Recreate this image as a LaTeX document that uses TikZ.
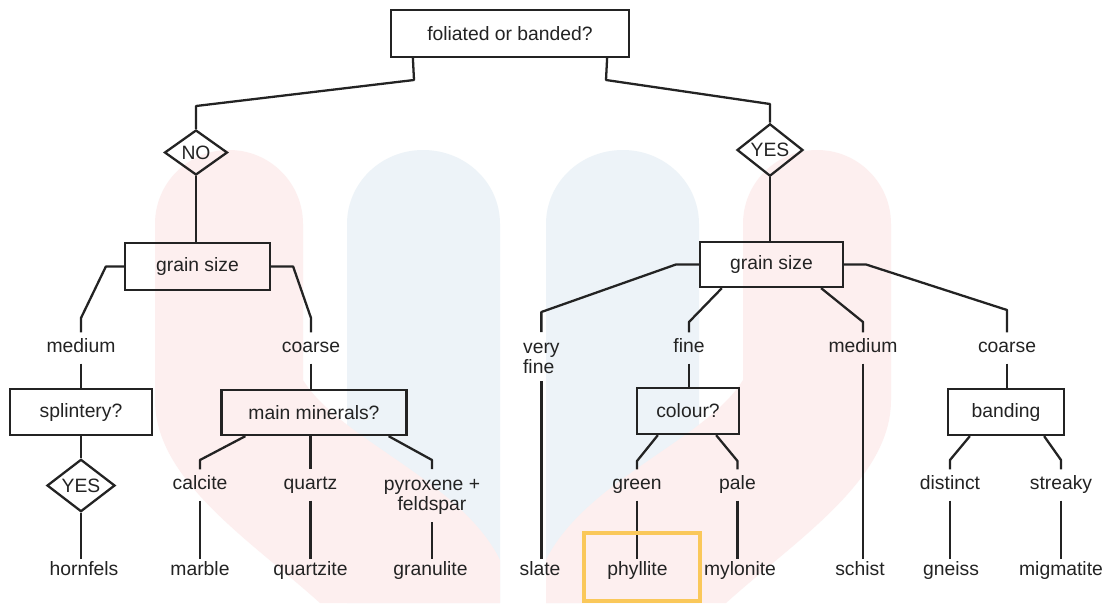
\documentclass[tikz,border=0pt]{standalone}
\usepackage{fontspec}
\setmainfont{Liberation Sans}
\usetikzlibrary{shapes.geometric,calc}
\definecolor{ink}{RGB}{35,35,35}
\definecolor{wmpink}{RGB}{253,239,239}
\definecolor{wmblue}{RGB}{237,243,248}
\definecolor{hilite}{RGB}{250,200,90}
\begin{document}
\begin{tikzpicture}[x=0.02cm, y=-0.02cm,
    font=\fontsize{11}{11.5}\selectfont,
    qbox/.style={draw=ink, line width=1.3pt, rectangle, inner sep=0pt, text=ink},
    qdiam/.style={draw=ink, line width=1.3pt, diamond, inner sep=0pt, text=ink},
    lbl/.style={inner xsep=1pt, inner ysep=4pt, text height=7.5pt, text depth=2pt, text=ink},
    leaf/.style={lbl, inner ysep=2pt},
    twoline/.style={inner xsep=1pt, inner ysep=4pt, text=ink},
    link/.style={draw=ink, line width=1.3pt, line join=round}]

    % Canvas
    \fill[white] (0,0) rectangle (1110,603);
    \useasboundingbox (0,0) rectangle (1110,603);

    % Watermark behind the tree
    \fill[wmblue] (347,224) .. controls (347,183) and (381,150) .. (423,150)
        .. controls (466,150) and (500,183) .. (500,224) -- (500,603) -- (347,603) -- cycle;
    \fill[wmblue] (546,224) .. controls (546,183) and (580,150) .. (623,150)
        .. controls (665,150) and (699,183) .. (699,224) -- (699,603) -- (546,603) -- cycle;
    \fill[wmpink] (155,224) .. controls (155,183) and (188,150) .. (229,150)
        .. controls (270,150) and (303,183) .. (303,224) -- (303,380)
        .. controls (340,440) and (460,480) .. (500,560) -- (500,603) -- (320,603)
        .. controls (250,540) and (155,480) .. (155,400) -- cycle;
    \fill[wmpink] (891,224) .. controls (891,183) and (858,150) .. (817,150)
        .. controls (776,150) and (743,183) .. (743,224) -- (743,380)
        .. controls (706,440) and (586,480) .. (546,560) -- (546,603) -- (726,603)
        .. controls (796,540) and (891,480) .. (891,400) -- cycle;

    % Questions
    \node[qbox, minimum width=4.76cm, minimum height=0.94cm] (fob) at (510,33.5) {foliated or banded?};
    \node[qdiam, minimum width=1.26cm, minimum height=0.9cm] (no) at (196,152.5) {NO};
    \node[qdiam, minimum width=1.32cm, minimum height=0.88cm] (yes) at (770,150) {YES};
    \node[qbox, minimum width=2.9cm, minimum height=0.94cm] (gl) at (197.5,266.5) {grain size};
    \node[qbox, minimum width=2.86cm, minimum height=0.9cm] (gr) at (771.5,264.5) {grain size};
    \node[qbox, minimum width=2.84cm, minimum height=0.92cm] (sp) at (81,412) {splintery?};
    \node[qdiam, minimum width=1.36cm, minimum height=0.9cm] (yes2) at (81,485.5) {YES};
    \node[qbox, minimum width=3.7cm, minimum height=0.9cm] (mm) at (314,412.5) {main minerals?};
    \node[qbox, minimum width=2.04cm, minimum height=0.92cm] (cl) at (688,411) {colour?};
    \node[qbox, minimum width=2.32cm, minimum height=0.92cm] (bd) at (1006,412) {banding};

    % Grain sizes
    \node[lbl] (medL) at (81,348) {medium};
    \node[lbl] (coaL) at (311,348) {coarse};
    \node[twoline, align=left, anchor=north west] (vf) at (521,332) {\strut very\\fine};
    \node[lbl] (fine) at (689,348) {fine};
    \node[lbl] (medR) at (863,348) {medium};
    \node[lbl] (coaR) at (1007,348) {coarse};

    % Minerals, colours, banding
    \node[lbl] (calcite) at (200,485) {calcite};
    \node[lbl] (quartz) at (310.5,485) {quartz};
    \node[twoline, align=center, anchor=north] (pyro) at (432,469) {\strut pyroxene +\\feldspar};
    \node[lbl] (green) at (637,485) {green};
    \node[lbl] (pale) at (737.5,485) {pale};
    \node[lbl] (distinct) at (950,485) {distinct};
    \node[lbl] (streaky) at (1061,485) {streaky};

    % Rocks
    \node[leaf] (hornfels) at (84,571) {hornfels};
    \node[leaf] (marble) at (200,571) {marble};
    \node[leaf] (quartzite) at (310.5,571) {quartzite};
    \node[leaf] (granulite) at (430.5,571) {granulite};
    \node[leaf] (slate) at (540,571) {slate};
    \node[leaf] (phyllite) at (637.5,571) {phyllite};
    \node[leaf] (mylonite) at (740,571) {mylonite};
    \node[leaf] (schist) at (860,571) {schist};
    \node[leaf] (gneiss) at (951,571) {gneiss};
    \node[leaf] (migmatite) at (1061,571) {migmatite};

    % Links, non-foliated side
    \draw[link] ($(fob.south west)+(23,0)$) -- (414,80) -- (196,106) -- (no.north);
    \draw[link] (no.south) -- (no.south |- gl.north);
    \draw[link] (gl.west) -- ++(-18,0) -- (81,318) -- (medL.north);
    \draw[link] (gl.east) -- ++(22,0) -- (311,318) -- (coaL.north);
    \draw[link] (medL.south) -- (sp.north);
    \draw[link] (sp.south) -- (yes2.north);
    \draw[link] (yes2.south) -- (yes2.south |- hornfels.north);
    \draw[link] (coaL.south) -- (coaL.south |- mm.north);
    \draw[link] ($(mm.south west)+(25,0)$) -- (200,460) -- (calcite.north);
    \draw[link] (mm.south -| quartz.north) -- (quartz.north);
    \draw[link] ($(mm.south east)+(-19,0)$) -- (432,460) -- (pyro.north);
    \draw[link] (calcite.south) -- (marble.north);
    \draw[link] (quartz.south) -- (quartzite.north);
    \draw[link] (pyro.south) -- (pyro.south |- granulite.north);

    % Links, foliated side
    \draw[link] ($(fob.south east)+(-23,0)$) -- (606,80) -- (770,104) -- (yes.north);
    \draw[link] (yes.south) -- (yes.south |- gr.north);
    \draw[link] (gr.west) -- ++(-23,0) -- (vf.north |- 0,312) -- (vf.north);
    \draw[link] ($(gr.south west)+(23,0)$) -- (689,322) -- (fine.north);
    \draw[link] ($(gr.south east)+(-23,0)$) -- (863,322) -- (medR.north);
    \draw[link] (gr.east) -- ++(22,0) -- (1007,310) -- (coaR.north);
    \draw[link] (vf.south) -- (vf.south |- slate.north);
    \draw[link] (fine.south) -- (fine.south |- cl.north);
    \draw[link] (medR.south) -- (medR.south |- schist.north);
    \draw[link] (coaR.south) -- (coaR.south |- bd.north);
    \draw[link] ($(cl.south west)+(22,0)$) -- (637,461) -- (green.north);
    \draw[link] ($(cl.south east)+(-24,0)$) -- (737.5,461) -- (pale.north);
    \draw[link] (green.south) -- (green.south |- phyllite.north);
    \draw[link] (pale.south) -- (pale.south |- mylonite.north);
    \draw[link] ($(bd.south west)+(23,0)$) -- (950,460) -- (distinct.north);
    \draw[link] ($(bd.south east)+(-21,0)$) -- (1061,460) -- (streaky.north);
    \draw[link] (distinct.south) -- (distinct.south |- gneiss.north);
    \draw[link] (streaky.south) -- (streaky.south |- migmatite.north);

    % Highlight
    \draw[hilite, line width=2.2pt] (584,533) rectangle (700,601);
\end{tikzpicture}
\end{document}
